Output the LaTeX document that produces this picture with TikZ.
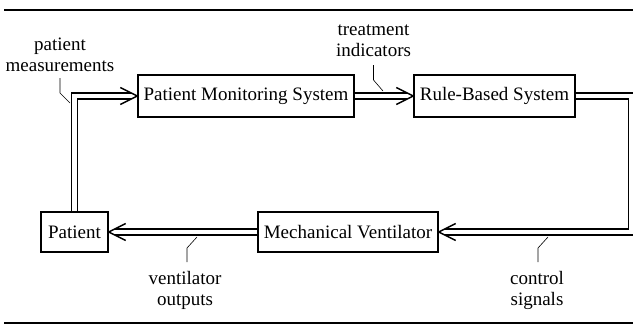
\documentclass[tikz,border=0pt]{standalone}
\usepackage{fontspec}
\setmainfont{Liberation Serif}
\begin{document}
\begin{tikzpicture}[x=1pt,y=-1pt,
  box/.style={draw, line width=1.4pt, inner sep=0pt, font=\fontsize{19}{21}\selectfont},
  dbl/.style={draw, line width=1.4pt, double=white, double distance=4.8pt, shorten >=6pt},
  chev/.style={line width=1.4pt, line join=miter},
  lbl/.style={align=center, inner sep=0pt, font=\fontsize{19}{21}\selectfont},
  lead/.style={line width=0.6pt},
  rule/.style={line width=2.2pt}]
\useasboundingbox (0,0) rectangle (633,324);
\clip (0,0) rectangle (633,324);
% rules
\coordinate (t1) at (4,10);  \coordinate (t2) at (633,10);
\coordinate (b1) at (4,323); \coordinate (b2) at (633,323);
\draw[rule] (t1) -- (t2);
\draw[rule] (b1) -- (b2);
% boxes
\node[box, minimum width=216pt, minimum height=42pt] (pms) at (246,96) {Patient Monitoring System};
\node[box, minimum width=161pt, minimum height=42pt] (rbs) at (494.5,96) {Rule-Based System};
\node[box, minimum width=67pt, minimum height=40pt] (pat) at (74.5,232) {Patient};
\node[box, minimum width=180pt, minimum height=40pt] (mv) at (348,232) {Mechanical Ventilator};
% double connectors
\coordinate (rc) at (631.5,232);
\draw[dbl] (pat.north) |- (pms.west);
\draw[dbl] (pms.east) -- (rbs.west);
\draw[dbl] (rbs.east) -| (rc) -- (mv.east);
\draw[dbl] (mv.west) -- (pat.east);
% chevrons
\foreach \n/\a/\s in {pms/west/-1, rbs/west/-1, mv/east/1, pat/east/1}{
  \draw[chev] ([shift={(\s*17,-8.5)}]\n.\a) -- (\n.\a) -- ([shift={(\s*17,8.5)}]\n.\a);
}
% labels
\node[lbl, anchor=south] (pml) at (60,72) {patient\\measurements};
\node[lbl, anchor=south] (til) at (373.5,57) {treatment\\indicators};
\node[lbl, anchor=north] (vol) at (185,271) {ventilator\\outputs};
\node[lbl, anchor=north] (csl) at (537,271) {control\\signals};
% leaders
\coordinate (pm1) at (60,93);  \coordinate (pm2) at (70,103);
\coordinate (ti1) at (373.5,80); \coordinate (ti2) at (383,91);
\coordinate (vo1) at (187,248); \coordinate (vo2) at (197,237);
\coordinate (cs1) at (538,248); \coordinate (cs2) at (548,237);
\draw[lead, shorten <=6pt] (pml.south) -- (pm1) -- (pm2);
\draw[lead, shorten <=8pt] (til.south) -- (ti1) -- (ti2);
\draw[lead, shorten <=9pt] (vol.north -| vo1) -- (vo1) -- (vo2);
\draw[lead, shorten <=9pt] (csl.north -| cs1) -- (cs1) -- (cs2);
\end{tikzpicture}
\end{document}
